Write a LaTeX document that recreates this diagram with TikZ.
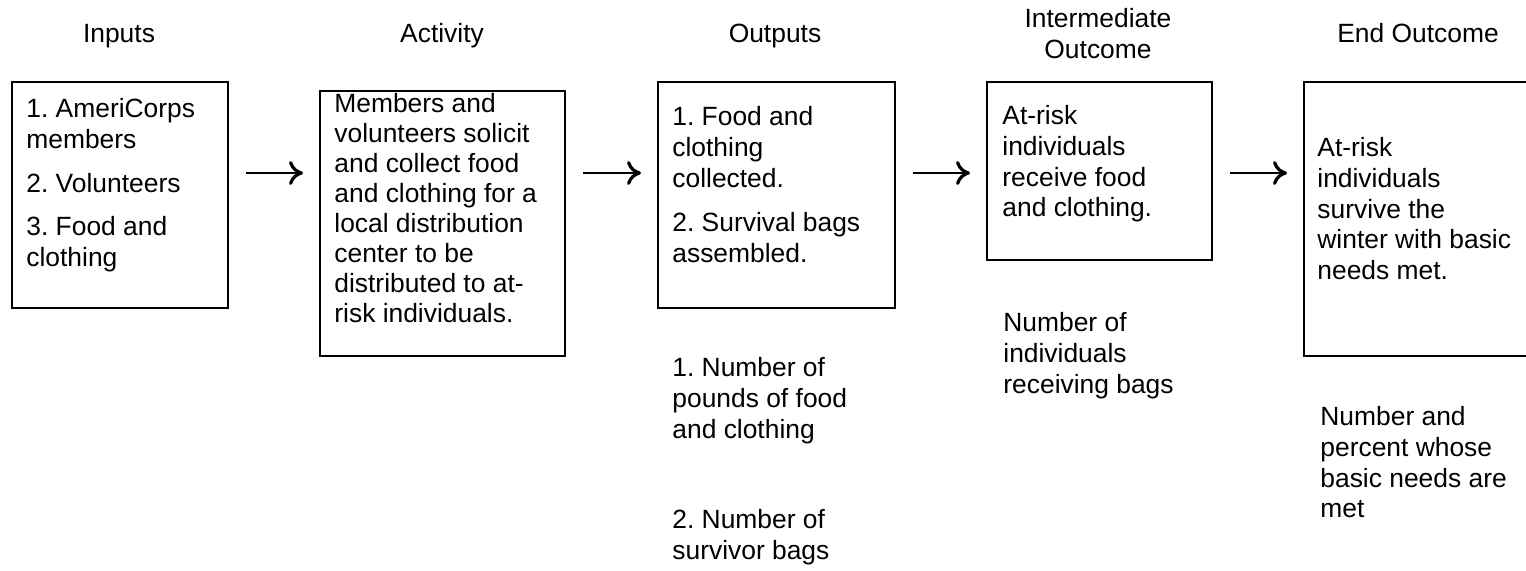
\documentclass[tikz,border=0pt]{standalone}
\usepackage{fontspec}
\setmainfont{Liberation Sans}
\usetikzlibrary{arrows.meta}
\frenchspacing
% top-aligned stacks of lines: the baseline is that of the first line
\newcommand\stackL[1]{\begin{tabular}[t]{@{}l@{}}#1\end{tabular}}
\newcommand\stackC[1]{\begin{tabular}[t]{@{}c@{}}#1\end{tabular}}
\begin{document}
\begin{tikzpicture}[x=0.5pt,y=-0.5pt,
  box/.style={draw, line width=1pt, inner sep=0pt, anchor=north west},
  txt/.style={anchor=base west, inner sep=0pt,
    font=\fontsize{13.2}{15.3}\selectfont},
  head/.style={anchor=base, inner sep=0pt,
    font=\fontsize{13.2}{15.3}\selectfont},
  arr/.style={line width=1pt, -{To[length=7pt,width=12pt,line width=1.6pt]},
    shorten <=8.5pt, shorten >=8pt}]
\useasboundingbox (0,0) rectangle (1526,571);

% column headings
\node[head] (hin)  at (119,43)  {Inputs};
\node[head] (hact) at (442,43)  {Activity};
\node[head] (hout) at (775,43)  {Outputs};
\node[head] (hint) at (1098,28) {\stackC{Intermediate\\Outcome}};
\node[head] (hend) at (1418,43) {End Outcome};

% boxes
\node[box, minimum width=108pt, minimum height=113pt]   (inputs)   at (11,81)   {};
\node[box, minimum width=122.5pt, minimum height=132.5pt] (activity) at (319,90)  {};
\node[box, minimum width=118.5pt, minimum height=113pt] (outputs)  at (657,81)  {};
\node[box, minimum width=112.5pt, minimum height=89pt]  (interm)   at (986,81)  {};
\node[box, minimum width=120pt, minimum height=137pt]   (endout)   at (1303,81) {};

% box texts
\node[txt] (tin) at (26,118) {\stackL{1. AmeriCorps\\members\\[6.5pt]2. Volunteers\\[6.5pt]3. Food and\\clothing}};
\node[txt, font=\fontsize{13.2}{15}\selectfont] (tact) at (334,113)
  {\stackL{Members and\\volunteers solicit\\and collect food\\and clothing for a\\local distribution\\center to be\\distributed to at-\\risk individuals.}};
\node[txt] (tout) at (672,126) {\stackL{1. Food and\\clothing\\collected.\\[7pt]2. Survival bags\\assembled.}};
\node[txt] (tint) at (1002,125) {\stackL{At-risk\\individuals\\receive food\\and clothing.}};
\node[txt] (tend) at (1317,157) {\stackL{At-risk\\individuals\\survive the\\winter with basic\\needs met.}};

% indicators
\node[txt] (mout1) at (672,377) {\stackL{1. Number of\\pounds of food\\and clothing}};
\node[txt] (mout2) at (672,529) {\stackL{2. Number of\\survivor bags}};
\node[txt] (mint)  at (1003,332) {\stackL{Number of\\individuals\\receiving bags}};
\node[txt] (mend)  at (1320,426) {\stackL{Number and\\percent whose\\basic needs are\\met}};

% arrows
\coordinate (flow) at (0,173);
\draw[arr] (inputs.east |- flow)   -- (activity.west |- flow);
\draw[arr] (activity.east |- flow) -- (outputs.west |- flow);
\draw[arr] (outputs.east |- flow)  -- (interm.west |- flow);
\draw[arr] (interm.east |- flow)   -- (endout.west |- flow);
\end{tikzpicture}
\end{document}
